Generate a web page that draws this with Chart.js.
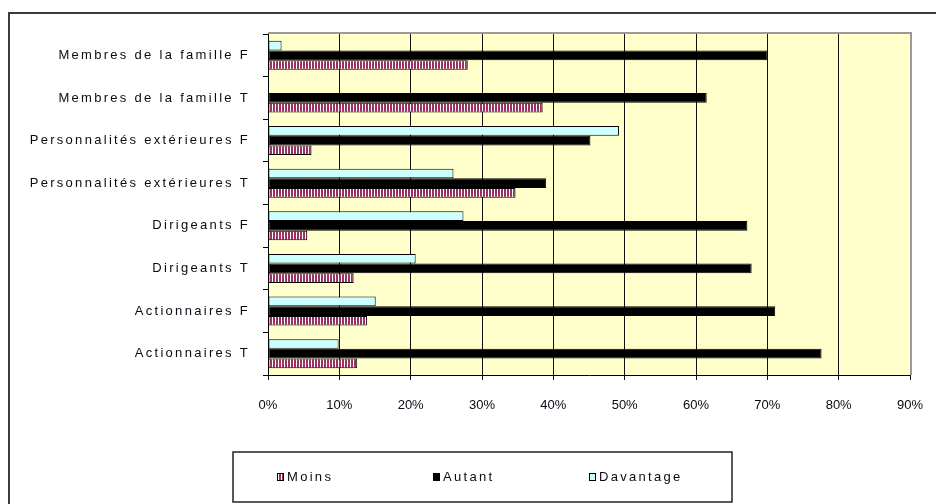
<!DOCTYPE html>
<html lang="fr">
<head>
<meta charset="utf-8">
<title>Moins / Autant / Davantage</title>
<script src="https://cdn.jsdelivr.net/npm/chart.js@4.4.1/dist/chart.umd.min.js"></script>
<style>
  html, body { margin: 0; padding: 0; background: #fff; }
  #wrap { width: 936px; height: 504px; }
</style>
</head>
<body>
<div id="wrap"><canvas id="chart" width="936" height="504"></canvas></div>
<script>
// Categories, top to bottom
const categories = [
  'Membres de la famille F',
  'Membres de la famille T',
  'Personnalités extérieures F',
  'Personnalités extérieures T',
  'Dirigeants F',
  'Dirigeants T',
  'Actionnaires F',
  'Actionnaires T'
];

// Percentages per series
const moinsValues     = [28.0, 38.5, 6.1, 34.7, 5.5, 12.0, 13.9, 12.5];
const autantValues    = [70.0, 61.5, 45.2, 39.0, 67.2, 67.8, 71.1, 77.6];
const davantageValues = [1.9, 0, 49.2, 26.0, 27.4, 20.7, 15.1, 9.9];

// Horizontal axis ticks
const xTickValues = [0, 10, 20, 30, 40, 50, 60, 70, 80, 90];

const FONT = "'Liberation Sans', Arial, sans-serif";
const TEXT_COLOR = '#0a0a14';
const WIDE_SPACING = '2.3px';

// Vertical plum/white stripes for the "Moins" bars
function makeStripePattern() {
  const c = document.createElement('canvas');
  c.width = 3;
  c.height = 4;
  const g = c.getContext('2d');
  g.fillStyle = '#ffffff';
  g.fillRect(0, 0, 3, 4);
  g.fillStyle = '#993366';
  g.fillRect(0, 0, 2, 4);
  return g.createPattern(c, 'repeat');
}

const stripes = makeStripePattern();

// Outer frame, plot background; category labels (drawn after the bars,
// ticks.z = 1) get the wide letter spacing, the % ticks do not
const framePlugin = {
  id: 'frame',
  beforeDraw(chart) {
    const { ctx, chartArea: a } = chart;
    ctx.letterSpacing = '0px';
    ctx.save();
    ctx.fillStyle = '#3c3c3c';
    ctx.fillRect(8, 12, 928, 2);
    ctx.fillRect(8, 12, 2, 492);
    ctx.fillStyle = '#ffffcc';
    ctx.fillRect(a.left, a.top, a.right - a.left, a.bottom - a.top);
    ctx.restore();
  },
  beforeDatasetsDraw(chart) {
    const { ctx, chartArea: a } = chart;
    ctx.save();
    ctx.strokeStyle = '#9a9a9a';
    ctx.lineWidth = 2;
    ctx.beginPath();
    ctx.moveTo(a.left, a.top - 1);
    ctx.lineTo(a.right + 1, a.top - 1);
    ctx.lineTo(a.right + 1, a.bottom);
    ctx.stroke();
    ctx.restore();
  },
  afterDatasetsDraw(chart) {
    chart.ctx.letterSpacing = WIDE_SPACING;
  },
  afterDraw(chart) {
    chart.ctx.letterSpacing = '0px';
  }
};

// Boxed legend under the plot: Moins, Autant, Davantage
const boxLegendPlugin = {
  id: 'boxLegend',
  afterDraw(chart) {
    const ctx = chart.ctx;
    const box = { x: 233, y: 452, w: 499, h: 50 };
    const order = [2, 1, 0];
    const slots = [277, 433, 589];
    ctx.save();
    ctx.strokeStyle = '#222';
    ctx.lineWidth = 1.5;
    ctx.strokeRect(box.x, box.y, box.w, box.h);
    const cy = box.y + box.h / 2;
    ctx.font = '13px ' + FONT;
    ctx.letterSpacing = WIDE_SPACING;
    ctx.textBaseline = 'middle';
    ctx.textAlign = 'left';
    order.forEach((di, i) => {
      const ds = chart.data.datasets[di];
      const x = slots[i];
      ctx.fillStyle = ds.backgroundColor;
      ctx.fillRect(x, cy - 4, 7, 8);
      ctx.strokeStyle = '#000';
      ctx.lineWidth = 1;
      ctx.strokeRect(x + 0.5, cy - 3.5, 6, 7);
      ctx.fillStyle = TEXT_COLOR;
      ctx.fillText(ds.label, x + 10, cy);
    });
    ctx.restore();
  }
};

new Chart(document.getElementById('chart'), {
  type: 'bar',
  data: {
    labels: categories,
    datasets: [
      {
        label: 'Davantage',
        data: davantageValues,
        backgroundColor: '#ccffff',
        borderColor: '#000',
        borderWidth: 1,
        borderSkipped: false
      },
      {
        label: 'Autant',
        data: autantValues,
        backgroundColor: '#000000',
        borderColor: '#000',
        borderWidth: 1,
        borderSkipped: false
      },
      {
        label: 'Moins',
        data: moinsValues,
        backgroundColor: stripes,
        borderColor: '#000',
        borderWidth: 1,
        borderSkipped: false
      }
    ]
  },
  options: {
    indexAxis: 'y',
    responsive: false,
    animation: false,
    categoryPercentage: 0.68,
    barPercentage: 1,
    layout: { padding: { left: 0, top: 34, right: 26, bottom: 0 } },
    plugins: {
      legend: { display: false },
      tooltip: { enabled: false }
    },
    scales: {
      x: {
        min: 0,
        max: 90,
        afterFit(scale) {
          scale.height = 129;
          scale.paddingLeft = 0;
          scale.paddingRight = 0;
        },
        afterBuildTicks(scale) {
          scale.ticks = xTickValues.map(v => ({ value: v }));
        },
        ticks: {
          callback: v => v + '%',
          color: TEXT_COLOR,
          font: { family: FONT, size: 13 },
          padding: 18,
          maxRotation: 0
        },
        grid: {
          color: '#111',
          lineWidth: 1,
          tickLength: 5,
          drawOnChartArea: true
        },
        border: { color: '#000', width: 1 }
      },
      y: {
        afterFit(scale) {
          scale.width = 268;
          scale.paddingTop = 0;
          scale.paddingBottom = 0;
        },
        ticks: {
          z: 1,
          color: TEXT_COLOR,
          font: { family: FONT, size: 13 },
          padding: 13,
          autoSkip: false
        },
        grid: {
          offset: true,
          drawOnChartArea: false,
          color: '#000',
          tickLength: 5
        },
        border: { color: '#000', width: 1 }
      }
    }
  },
  plugins: [framePlugin, boxLegendPlugin]
});
</script>
</body>
</html>
